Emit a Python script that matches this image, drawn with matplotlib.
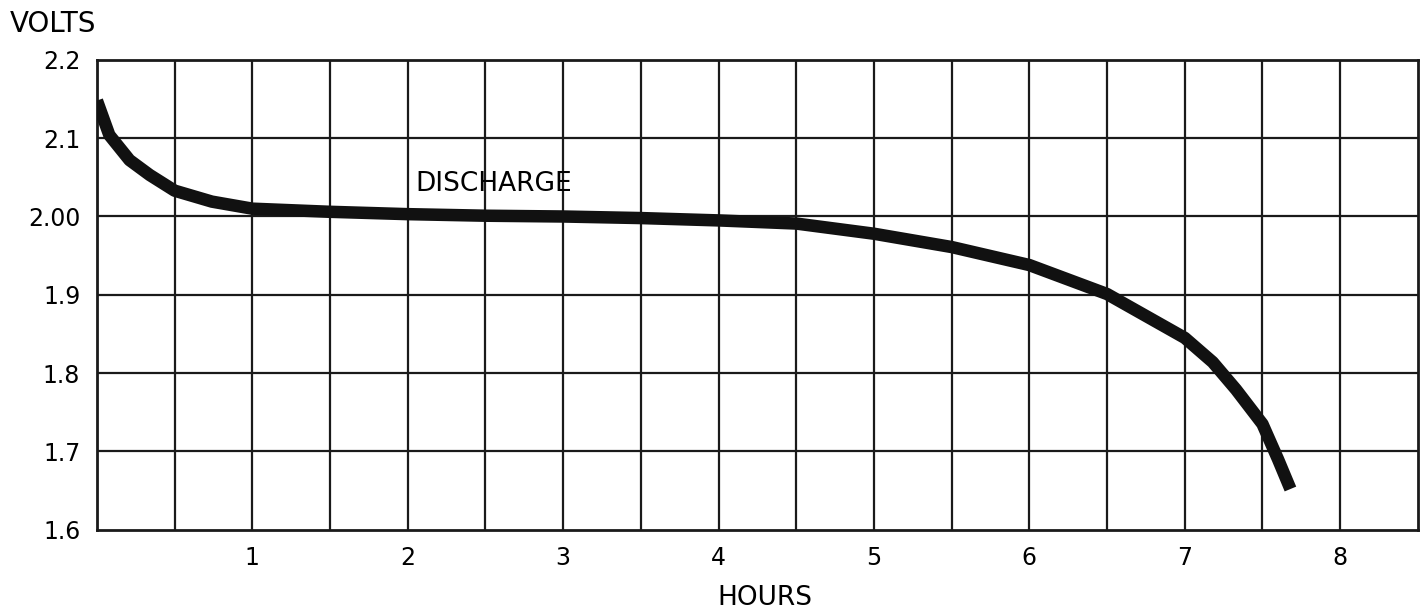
import numpy as np
import matplotlib
matplotlib.use("Agg")
import matplotlib.pyplot as plt

# discharge curve
hours = [0.0, 0.08, 0.21, 0.34, 0.5, 0.74, 1.0, 1.5, 2.0, 2.5, 3.0, 3.5,
         4.0, 4.5, 5.0, 5.5, 6.0, 6.5, 6.75, 7.0, 7.18, 7.33, 7.5, 7.6, 7.68]
volts = [2.148, 2.104, 2.072, 2.053, 2.033, 2.019, 2.010, 2.006, 2.003,
         2.001, 2.0, 1.998, 1.995, 1.991, 1.978, 1.961, 1.938, 1.901, 1.873,
         1.845, 1.814, 1.779, 1.735, 1.690, 1.652]

x_ticks = [1, 2, 3, 4, 5, 6, 7, 8]
x_labels = ["1", "2", "3", "4", "5", "6", "7", "8"]
y_ticks = [1.6, 1.7, 1.8, 1.9, 2.0, 2.1, 2.2]
y_labels = ["1.6", "1.7", "1.8", "1.9", "2.00", "2.1", "2.2"]

plt.rcParams['font.family'] = ['DejaVu Sans']

fig = plt.figure(figsize=(14.25, 6.11), dpi=100)
ax = fig.add_axes([0.068, 0.133, 0.927, 0.769])

# grid every half hour / every 0.1 volt
for x in np.arange(0.5, 8.5, 0.5):
    ax.axvline(x, color='#1a1a1a', lw=1.6, zorder=1)
for y in y_ticks[1:-1]:
    ax.axhline(y, color='#1a1a1a', lw=1.6, zorder=1)

ax.plot(hours, volts, color='#111111', lw=9, solid_capstyle='butt',
        solid_joinstyle='round', zorder=3)

ax.set_xlim(0, 8.5)
ax.set_ylim(1.6, 2.2)
ax.set_xticks(x_ticks)
ax.set_xticklabels(x_labels)
ax.set_yticks(y_ticks)
ax.set_yticklabels(y_labels)
ax.tick_params(length=0, labelsize=17, pad=12)
for s in ax.spines.values():
    s.set_linewidth(2)
    s.set_color('#1a1a1a')

ax.text(2.05, 2.042, "DISCHARGE", fontsize=19, ha='left', va='center')
fig.text(0.007, 0.96, "VOLTS", fontsize=20, ha='left', va='center')
fig.text(0.537, 0.022, "HOURS", fontsize=19, ha='center', va='center')

fig.savefig("out.png", dpi=100)
